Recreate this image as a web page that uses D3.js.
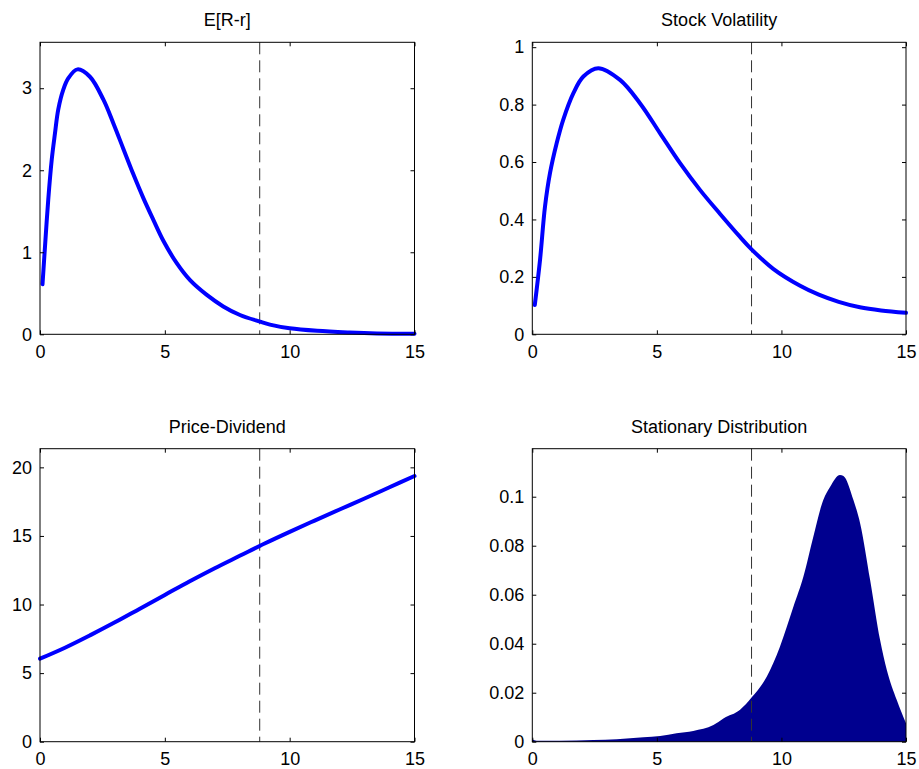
<!DOCTYPE html>
<html>
<head>
<meta charset="utf-8">
<script src="https://cdn.jsdelivr.net/npm/d3@7"></script>
<style>
    body { margin: 0; background: #fff; }
    svg text { font-family: Arial, "Liberation Sans", sans-serif; fill: #000; }
</style>
</head>
<body>
<svg width="919" height="769"></svg>
<script>
// values
var xTicks = [0, 5, 10, 15]
var cutoff = 8.8

var retX = [0.1, 0.2, 0.33, 0.47, 0.6, 0.73, 0.93, 1.13, 1.5, 2.0, 2.54, 2.94, 3.34, 3.74, 4.14, 4.54, 4.94, 5.47, 6.01, 6.68, 7.34, 8.01, 8.81, 9.21, 10, 11.1, 12.4, 13.5, 15]
var retY = [0.61, 1.07, 1.64, 2.13, 2.45, 2.74, 2.98, 3.12, 3.23, 3.14, 2.86, 2.57, 2.26, 1.95, 1.66, 1.395, 1.14, 0.87, 0.66, 0.48, 0.34, 0.235, 0.154, 0.118, 0.073, 0.042, 0.022, 0.011, 0.006]
var retTicks = [0, 1, 2, 3]

var volX = [0.1, 0.31, 0.51, 0.71, 0.98, 1.24, 1.65, 2.05, 2.65, 3.52, 4.32, 5.13, 5.93, 6.73, 7.53, 8.33, 8.8, 9.67, 10.75, 11.5, 12.3, 13.15, 14, 15]
var volY = [0.102, 0.259, 0.445, 0.561, 0.666, 0.747, 0.84, 0.898, 0.927, 0.886, 0.805, 0.70, 0.596, 0.503, 0.42, 0.34, 0.296, 0.228, 0.169, 0.138, 0.113, 0.094, 0.083, 0.075]
var volTicks = [0, 0.2, 0.4, 0.6, 0.8, 1]

var pdX = [0, 1, 2, 3, 4, 5, 6, 7, 8, 9, 10, 11, 12, 13, 14, 15]
var pdY = [6.05, 6.85, 7.75, 8.7, 9.7, 10.7, 11.7, 12.65, 13.55, 14.45, 15.3, 16.12, 16.93, 17.73, 18.55, 19.37]
var pdTicks = [0, 5, 10, 15, 20]

var distX = [0, 0.17, 1.1, 2.45, 3.39, 4.46, 5.13, 5.79, 6.46, 7.27, 7.67, 8.34, 8.8, 9.41, 9.94, 10.48, 10.88, 11.28, 11.68, 11.95, 12.35, 12.49, 12.89, 13.16, 13.56, 13.96, 14.23, 14.63, 15]
var distY = [0.001, 0.0004, 0.0004, 0.0007, 0.001, 0.0018, 0.0023, 0.0034, 0.0044, 0.0068, 0.0095, 0.013, 0.018, 0.0265, 0.0388, 0.0551, 0.0673, 0.0837, 0.0987, 0.104, 0.1089, 0.1085, 0.0987, 0.0891, 0.066, 0.0415, 0.0293, 0.017, 0.0075]
var distTicks = [0, 0.02, 0.04, 0.06, 0.08, 0.1]

var svg = d3.select("svg")
svg.append("rect").attr("width", 919).attr("height", 769).attr("fill", "#fff")

var cols = [[40, 414.5], [532.3, 906]]
var rows = [[42.3, 334.3], [448.7, 741.7]]

function drawPanel(p) {
    var x0 = cols[p.col][0], x1 = cols[p.col][1]
    var y0 = rows[p.row][0], y1 = rows[p.row][1]

    var scX = d3.scaleLinear().domain([0, 15]).range([x0, x1])
    var scY = d3.scaleLinear().domain([0, p.ymax]).range([y1, y0])

    var g = svg.append("g")
    var data = p.xs.map((x, i) => ({x: x, y: p.ys[i]}))

    if (p.area) {
        var areaMkr = d3.area().curve(d3.curveMonotoneX)
            .x(d => scX(d.x)).y0(scY(0)).y1(d => scY(d.y))
        g.append("path").attr("d", areaMkr(data))
            .attr("fill", "#00008f").attr("stroke", "none")
    }

    // dashed cutoff line
    g.append("line")
        .attr("x1", scX(cutoff)).attr("x2", scX(cutoff))
        .attr("y1", y0).attr("y2", y1)
        .attr("stroke", "#333").attr("stroke-width", 1)
        .attr("stroke-dasharray", "12,6")

    if (!p.area) {
        var lineMkr = d3.line().curve(d3.curveCatmullRom.alpha(0.5))
            .x(d => scX(d.x)).y(d => scY(d.y))
        g.append("path").attr("d", lineMkr(data))
            .attr("fill", "none").attr("stroke", "#0000ff")
            .attr("stroke-width", 4).attr("stroke-linecap", "round")
            .attr("stroke-linejoin", "round")
    }

    var fmt = d3.format("~g")

    // axes with inward ticks on all four sides
    g.append("g").attr("transform", `translate(0, ${y1})`)
        .call(d3.axisBottom(scX).tickValues(xTicks).tickSizeInner(-4).tickSizeOuter(0).tickPadding(11).tickFormat(fmt))
    g.append("g").attr("transform", `translate(0, ${y0})`)
        .call(d3.axisTop(scX).tickValues(xTicks).tickSizeInner(-4).tickSizeOuter(0).tickFormat(""))
    g.append("g").attr("transform", `translate(${x0}, 0)`)
        .call(d3.axisLeft(scY).tickValues(p.yTicks).tickSizeInner(-4).tickSizeOuter(0).tickPadding(8).tickFormat(fmt))
    g.append("g").attr("transform", `translate(${x1}, 0)`)
        .call(d3.axisRight(scY).tickValues(p.yTicks).tickSizeInner(-4).tickSizeOuter(0).tickFormat(""))

    g.selectAll(".domain").remove()
    g.selectAll(".tick line").attr("stroke", "#000")
    g.selectAll(".tick text").attr("font-size", 18)
        .attr("font-family", "Arial, 'Liberation Sans', sans-serif")

    g.append("rect")
        .attr("x", x0).attr("y", y0)
        .attr("width", x1 - x0).attr("height", y1 - y0)
        .attr("fill", "none").attr("stroke", "#000").attr("stroke-width", 1)

    g.append("text")
        .attr("x", (x0 + x1) / 2).attr("y", y0 - 16)
        .attr("text-anchor", "middle").attr("font-size", 18)
        .text(p.title)
}

drawPanel({col: 0, row: 0, title: "E[R-r]", xs: retX, ys: retY, ymax: 3.56, yTicks: retTicks})
drawPanel({col: 1, row: 0, title: "Stock Volatility", xs: volX, ys: volY, ymax: 1.017, yTicks: volTicks})
drawPanel({col: 0, row: 1, title: "Price-Dividend", xs: pdX, ys: pdY, ymax: 21.36, yTicks: pdTicks})
drawPanel({col: 1, row: 1, title: "Stationary Distribution", xs: distX, ys: distY, ymax: 0.1196, yTicks: distTicks, area: true})
</script>
</body>
</html>
